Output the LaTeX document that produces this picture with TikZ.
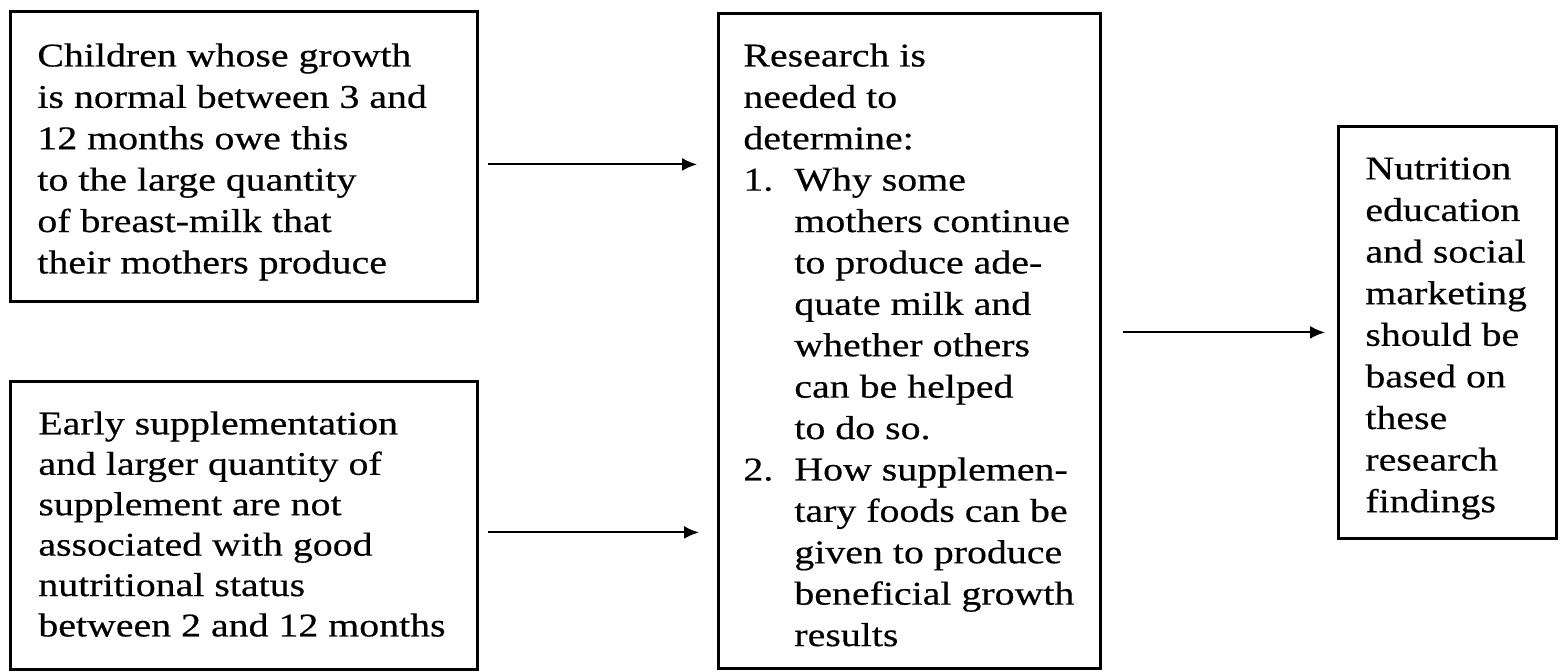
\documentclass[tikz,border=0pt]{standalone}
\usepackage{fontspec}
\setmainfont[FakeStretch=1.2,FakeBold=0.4]{Liberation Serif}
\usetikzlibrary{arrows.meta}
\begin{document}
\begin{tikzpicture}[x=0.5pt,y=-0.5pt,
  boxst/.style={draw, line width=1.4pt, anchor=north west, inner sep=0pt},
  txt/.style={anchor=north west, inner sep=0pt, align=left, font=\fontsize{16.6pt}{20.7pt}\selectfont},
  arr/.style={line width=1pt, -{Latex[length=7.5pt,width=6.5pt]}}]
\useasboundingbox[fill=white] (0,0) rectangle (1560,671);
% boxes
\node[boxst, minimum width=233.5pt, minimum height=145pt] (b1) at (9,10) {};
\node[boxst, minimum width=233.5pt, minimum height=144pt] (b2) at (9,380) {};
\node[boxst, minimum width=191pt, minimum height=327.5pt] (mid) at (717,12) {};
\node[boxst, minimum width=109pt, minimum height=206pt] (rb) at (1337,125) {};
% texts
\node[txt] (t1) at (37,43) {Children whose growth\\is normal between 3 and\\12 months owe this\\to the large quantity\\of breast-milk that\\their mothers produce};
\node[txt, font=\fontsize{16.6pt}{20.2pt}\selectfont] (t2) at (38,411) {Early supplementation\\and larger quantity of\\supplement are not\\associated with good\\nutritional status\\between 2 and 12 months};
\node[txt] (tm) at (743,43) {Research is\\needed to\\determine:\\\makebox[25.5pt][l]{1.}Why some\\\hspace*{25.5pt}mothers continue\\\hspace*{25.5pt}to produce ade-\\\hspace*{25.5pt}quate milk and\\\hspace*{25.5pt}whether others\\\hspace*{25.5pt}can be helped\\\hspace*{25.5pt}to do so.\\\makebox[25.5pt][l]{2.}How supplemen-\\\hspace*{25.5pt}tary foods can be\\\hspace*{25.5pt}given to produce\\\hspace*{25.5pt}beneficial growth\\\hspace*{25.5pt}results};
\node[txt, font=\fontsize{16.6pt}{20.8pt}\selectfont] (tr) at (1365,157) {Nutrition\\education\\and social\\marketing\\should be\\based on\\these\\research\\findings};
% connectors
\coordinate (y1) at ([yshift=-4pt]b1.east);
\coordinate (y2) at ([yshift=-3.5pt]b2.east);
\draw[arr, shorten <=4.5pt, shorten >=10pt] (y1) -- (y1 -| mid.west);
\draw[arr, shorten <=4.5pt, shorten >=9pt] (y2) -- (y2 -| mid.west);
\draw[arr, shorten <=10.5pt, shorten >=6pt] (mid.east |- rb.west) -- (rb.west);
\end{tikzpicture}
\end{document}
